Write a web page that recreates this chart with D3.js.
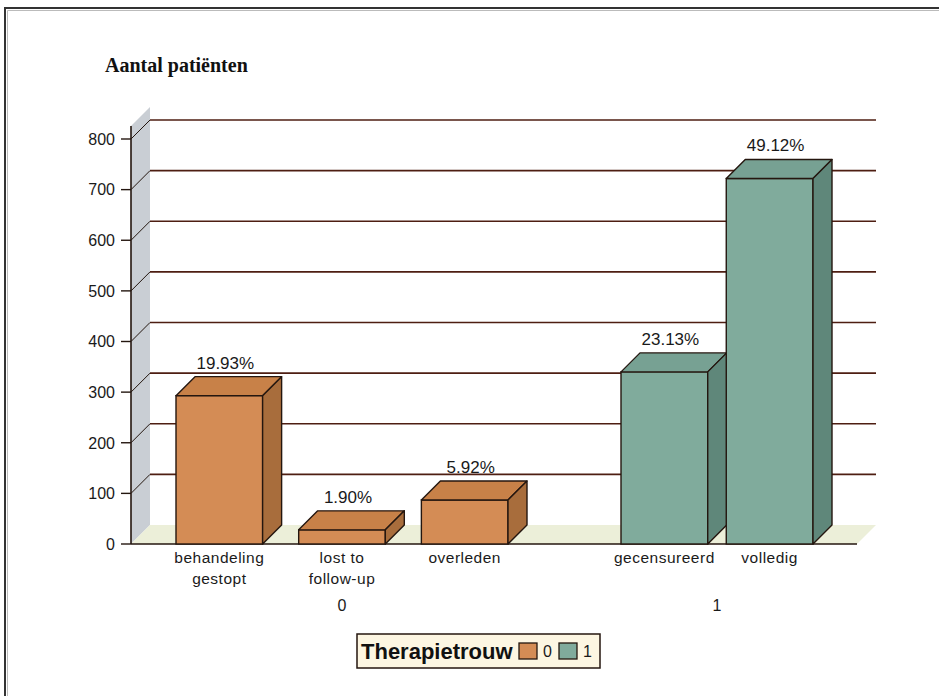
<!DOCTYPE html>
<html>
<head>
<meta charset="utf-8">
<script src="https://cdn.jsdelivr.net/npm/d3@7"></script>
<style>
  html, body { margin: 0; padding: 0; background: #ffffff; }
  svg { display: block; }
</style>
</head>
<body>
<svg id="chart" width="939" height="696"></svg>
<script>
// ---- data ----
const groups = ["0", "1"];
const categories0 = ["behandeling\ngestopt", "lost to\nfollow-up", "overleden"];
const categories1 = ["gecensureerd", "volledig"];
const values0 = [293, 28, 87];
const values1 = [340, 722];
const pctLabels0 = ["19.93%", "1.90%", "5.92%"];
const pctLabels1 = ["23.13%", "49.12%"];
const yTicks = [0, 100, 200, 300, 400, 500, 600, 700, 800];
const yTitle = "Aantal patiënten";
const legendTitle = "Therapietrouw";
const groupColors = { "0": ["#d48c55", "#c88148", "#a86d3c"], "1": ["#80ab9c", "#77a193", "#5f877a"] };

// ---- layout ----
const svg = d3.select("#chart");
const depthX = 19, depthY = 19;
const axisX = 131, plotRight = 857;
const y = d3.scaleLinear().domain([0, 800]).range([544, 139]);
const yTopVal = 863;

const x0 = d3.scaleBand().domain(categories0).range([176, 508]).paddingInner(0.294).paddingOuter(0);
const x1 = d3.scaleBand().domain(categories1).range([621, 813]).paddingInner(0.176).paddingOuter(0);

const bars = [
  ...categories0.map((c, i) => ({ cat: c, group: "0", value: values0[i], pct: pctLabels0[i], scale: x0 })),
  ...categories1.map((c, i) => ({ cat: c, group: "1", value: values1[i], pct: pctLabels1[i], scale: x1 }))
];

const dark = "#24160f";
const gridColor = "#4e1e12";

// frame
svg.append("path").attr("d", `M6,696 V9 H939`).attr("fill", "none").attr("stroke", "#bbbbbb").attr("stroke-width", 1)
  .attr("transform", "translate(1.5,1.5)");
svg.append("path").attr("d", `M5,696 V8 H939`).attr("fill", "none").attr("stroke", "#333333").attr("stroke-width", 2);

// side wall
svg.append("path")
  .attr("d", `M${axisX},${y(0)} L${axisX},${y(yTopVal) + depthY} L${axisX + depthX},${y(yTopVal)} L${axisX + depthX},${y(0) - depthY} Z`)
  .attr("fill", "#c9ced4");
// floor
svg.append("path")
  .attr("d", `M${axisX},${y(0)} L${plotRight},${y(0)} L${plotRight + depthX},${y(0) - depthY} L${axisX + depthX},${y(0) - depthY} Z`)
  .attr("fill", "#ecefd9");

// gridlines on back wall + diagonal connectors
const gridTicks = yTicks.filter(t => t > 0);
svg.append("g").selectAll("line.grid").data(gridTicks).join("line")
  .attr("x1", axisX + depthX).attr("x2", plotRight + depthX)
  .attr("y1", d => y(d) - depthY).attr("y2", d => y(d) - depthY)
  .attr("stroke", gridColor).attr("stroke-width", 1.6);
svg.append("g").selectAll("line.diag").data(gridTicks).join("line")
  .attr("x1", axisX).attr("x2", axisX + depthX)
  .attr("y1", d => y(d)).attr("y2", d => y(d) - depthY)
  .attr("stroke", dark).attr("stroke-width", 1);

// y axis
svg.append("line").attr("x1", axisX).attr("x2", axisX).attr("y1", y(yTopVal) + depthY).attr("y2", y(0))
  .attr("stroke", dark).attr("stroke-width", 1.6);
svg.append("line").attr("x1", axisX).attr("x2", plotRight).attr("y1", y(0)).attr("y2", y(0))
  .attr("stroke", dark).attr("stroke-width", 1.6);
const tickG = svg.append("g").selectAll("g").data(yTicks).join("g");
tickG.append("line").attr("x1", axisX - 10).attr("x2", axisX).attr("y1", d => y(d)).attr("y2", d => y(d))
  .attr("stroke", dark).attr("stroke-width", 1.4);
tickG.append("text").attr("x", axisX - 16).attr("y", d => y(d)).attr("dy", "0.36em")
  .attr("text-anchor", "end").attr("font-family", "Liberation Sans, Arial, sans-serif")
  .attr("font-size", 16).attr("fill", "#1a1a1a").text(d => d);

// y title
svg.append("text").attr("x", 105).attr("y", 72)
  .attr("font-family", "Liberation Serif, Times New Roman, serif").attr("font-weight", "bold")
  .attr("font-size", 20).attr("fill", "#111").text(yTitle);

// bars
const barG = svg.append("g").selectAll("g").data(bars).join("g");
barG.each(function (d) {
  const g = d3.select(this);
  const xl = d.scale(d.cat), w = d.scale.bandwidth();
  const yt = y(d.value), yb = y(0);
  const cols = groupColors[d.group];
  g.append("rect").attr("x", xl).attr("y", yt).attr("width", w).attr("height", yb - yt)
    .attr("fill", cols[0]).attr("stroke", dark).attr("stroke-width", 1.4);
  g.append("path")
    .attr("d", `M${xl},${yt} L${xl + depthX},${yt - depthY} L${xl + w + depthX},${yt - depthY} L${xl + w},${yt} Z`)
    .attr("fill", cols[1]).attr("stroke", dark).attr("stroke-width", 1.4).attr("stroke-linejoin", "round");
  g.append("path")
    .attr("d", `M${xl + w},${yt} L${xl + w + depthX},${yt - depthY} L${xl + w + depthX},${yb - depthY} L${xl + w},${yb} Z`)
    .attr("fill", cols[2]).attr("stroke", dark).attr("stroke-width", 1.4).attr("stroke-linejoin", "round");
  g.append("text").attr("x", xl + w / 2 + 6).attr("y", yt - depthY - 8)
    .attr("text-anchor", "middle").attr("font-family", "Liberation Sans, Arial, sans-serif")
    .attr("font-size", 17).attr("fill", "#1a1a1a").text(d.pct);
  const lines = d.cat.split("\n");
  const t = g.append("text").attr("text-anchor", "middle")
    .attr("font-family", "Liberation Sans, Arial, sans-serif").attr("font-size", 15.5)
    .attr("letter-spacing", "0.5px").attr("fill", "#1a1a1a");
  lines.forEach((ln, i) => {
    t.append("tspan").attr("x", xl + w / 2).attr("y", 563 + i * 21).text(ln);
  });
});

// group labels
const groupCenters = [
  (x0.range()[0] + x0.range()[1]) / 2,
  (x1.range()[0] + x1.range()[1]) / 2
];
svg.append("g").selectAll("text").data(groups).join("text")
  .attr("x", (d, i) => groupCenters[i]).attr("y", 611).attr("text-anchor", "middle")
  .attr("font-family", "Liberation Sans, Arial, sans-serif").attr("font-size", 16).attr("fill", "#1a1a1a")
  .text(d => d);

// legend
const lg = svg.append("g");
lg.append("rect").attr("x", 357).attr("y", 634).attr("width", 243).attr("height", 34)
  .attr("fill", "#fdf6e2").attr("stroke", dark).attr("stroke-width", 1.5);
lg.append("text").attr("x", 361).attr("y", 659)
  .attr("font-family", "Liberation Sans, Arial, sans-serif").attr("font-weight", "bold")
  .attr("font-size", 22).attr("fill", "#111").text(legendTitle);
const li = lg.selectAll("g.item").data(groups).join("g").attr("class", "item")
  .attr("transform", (d, i) => `translate(${519 + i * 40},643)`);
li.append("rect").attr("width", 18).attr("height", 16)
  .attr("fill", d => groupColors[d][0]).attr("stroke", dark).attr("stroke-width", 1.3);
li.append("text").attr("x", 24).attr("y", 14)
  .attr("font-family", "Liberation Sans, Arial, sans-serif").attr("font-size", 16).attr("fill", "#1a1a1a")
  .text(d => d);
</script>
</body>
</html>
